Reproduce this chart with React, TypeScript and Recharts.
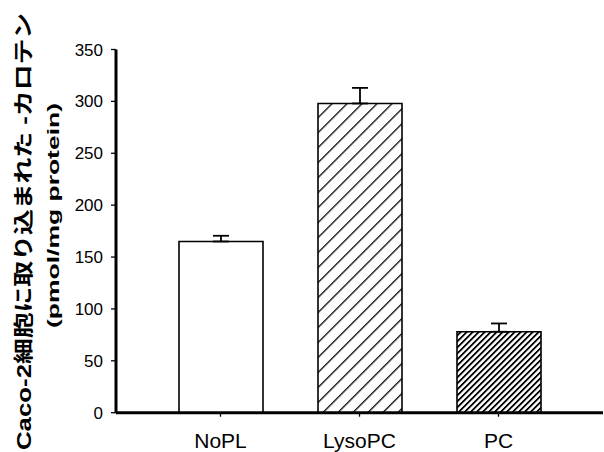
import React from "react";
import { BarChart, Bar, XAxis, YAxis, ErrorBar, Cell } from "recharts";

const groups = ["NoPL", "LysoPC", "PC"];
const uptake = [165, 298, 78];
const upperErr = [5.5, 15, 8];
const yTicks = [0, 50, 100, 150, 200, 250, 300, 350];
const fills = ["#ffffff", "url(#hatchWide)", "url(#hatchDense)"];

const data = groups.map((name, i) => ({
  name,
  value: uptake[i],
  err: [0, upperErr[i]],
}));

const FONT = "'Liberation Sans', Arial, 'Noto Sans CJK JP', sans-serif";

const YLabel = () => (
  <g fontFamily={FONT} fontWeight="bold" fill="#000">
    <text
      transform="translate(31,231.5) rotate(-90)"
      textAnchor="middle"
      fontSize={20}
      textLength={437}
      lengthAdjust="spacingAndGlyphs"
    >
      Caco-2細胞に取り込まれた  -カロテン
    </text>
    <text
      transform="translate(58.5,215.5) rotate(-90)"
      textAnchor="middle"
      fontSize={16}
      textLength={225}
      lengthAdjust="spacingAndGlyphs"
    >
      (pmol/mg protein)
    </text>
  </g>
);

const App = () => {
  return (
    <div style={{ position: "absolute", left: 0, top: 0 }}>
      <BarChart
        width={604}
        height={452}
        data={data}
        margin={{ top: 49.5, right: 1, left: 0, bottom: 0 }}
      >
        <defs>
          <pattern
            id="hatchWide"
            patternUnits="userSpaceOnUse"
            width={10.6}
            height={10.6}
            patternTransform="rotate(45)"
          >
            <rect width={10.6} height={10.6} fill="#fff" />
            <line x1={0} y1={0} x2={0} y2={10.6} stroke="#000" strokeWidth={2.6} />
          </pattern>
          <pattern
            id="hatchDense"
            patternUnits="userSpaceOnUse"
            width={4.24}
            height={4.24}
            patternTransform="rotate(45)"
          >
            <rect width={4.24} height={4.24} fill="#fff" />
            <line x1={0} y1={0} x2={0} y2={4.24} stroke="#000" strokeWidth={3.6} />
          </pattern>
        </defs>
        <XAxis
          dataKey="name"
          height={39.3}
          padding={{ left: 35, right: 35 }}
          axisLine={{ stroke: "#000", strokeWidth: 3 }}
          tickLine={{ stroke: "#000", strokeWidth: 1.3 }}
          tickSize={4}
          tickMargin={16.5}
          tick={{ fill: "#000", fontSize: 21, fontFamily: FONT }}
        />
        <XAxis
          xAxisId="top"
          dataKey="name"
          orientation="top"
          height={0}
          tick={false}
          tickLine={false}
          axisLine={{ stroke: "#000", strokeWidth: 3.2 }}
        />
        <YAxis
          width={116}
          domain={[0, 350]}
          ticks={yTicks}
          interval={0}
          axisLine={{ stroke: "#000", strokeWidth: 3 }}
          tickLine={{ stroke: "#000", strokeWidth: 1.3 }}
          tickSize={5}
          tickMargin={8}
          tick={{ fill: "#000", fontSize: 17, fontFamily: FONT }}
          label={<YLabel />}
        />
        <YAxis
          yAxisId="right"
          orientation="right"
          width={0}
          tick={false}
          tickLine={false}
          axisLine={{ stroke: "#000", strokeWidth: 2.2 }}
        />
        <Bar
          dataKey="value"
          barSize={84}
          stroke="#000"
          strokeWidth={1.6}
          isAnimationActive={false}
        >
          {data.map((d, i) => (
            <Cell key={d.name} fill={fills[i]} />
          ))}
          <ErrorBar
            dataKey="err"
            width={8}
            stroke="#000"
            strokeWidth={1.8}
            isAnimationActive={false}
          />
        </Bar>
      </BarChart>
    </div>
  );
};

export default App;
